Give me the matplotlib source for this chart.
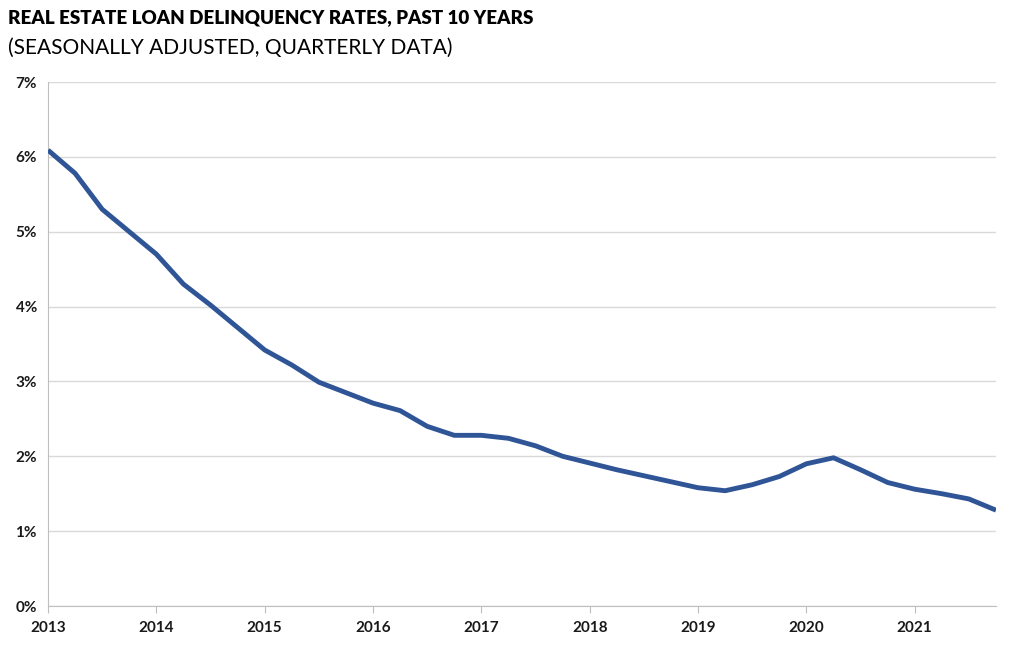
import numpy as np
import matplotlib.pyplot as plt
from matplotlib.ticker import FuncFormatter

plt.rc('font', family=['Lato', 'DejaVu Sans'])

# quarterly data, 2013 Q1 .. 2021 Q4 (percent)
quarters = np.arange(2013.0, 2022.0, 0.25)
rates = [6.09, 5.78, 5.30, 5.00, 4.70, 4.30, 4.02, 3.72,
         3.42, 3.22, 2.99, 2.85, 2.71, 2.61, 2.40, 2.28,
         2.28, 2.24, 2.14, 2.00, 1.91, 1.82, 1.74, 1.66,
         1.58, 1.54, 1.62, 1.73, 1.90, 1.98, 1.82, 1.65,
         1.56, 1.50, 1.43, 1.28]
years = list(range(2013, 2022))

fig = plt.figure(figsize=(10.24, 6.54), dpi=100)
ax = fig.add_axes([48/1024, 1 - 606/654, (996-48)/1024, (606-82)/654])

ax.plot(quarters, rates, color='#2F5597', linewidth=3.5, solid_capstyle='butt', zorder=3)

ax.set_xlim(2013, 2021.75)
ax.set_ylim(0, 7)
ax.set_yticks(range(0, 8))
ax.yaxis.set_major_formatter(FuncFormatter(lambda v, p: f'{v:.0f}%'))
ax.set_xticks(years)
ax.set_xticklabels([str(y) for y in years])
ax.grid(axis='y', color='#D9D9D9', linewidth=1)
ax.set_axisbelow(True)

for s in ['top', 'right']:
    ax.spines[s].set_visible(False)
ax.spines['left'].set_color('#BFBFBF')
ax.spines['bottom'].set_color('#BFBFBF')
ax.tick_params(axis='y', length=0, pad=8, labelsize=11)
ax.tick_params(axis='x', length=5, color='#BFBFBF', pad=6, labelsize=11)
for lbl in ax.get_xticklabels() + ax.get_yticklabels():
    lbl.set_fontweight('bold')
    lbl.set_color('#1a1a1a')

fig.text(8/1024, 1 - 18/654, 'REAL ESTATE LOAN DELINQUENCY RATES, PAST 10 YEARS',
         fontsize=13.5, fontweight='heavy', va='center', ha='left', color='black')
fig.text(8/1024, 1 - 48/654, '(SEASONALLY ADJUSTED, QUARTERLY DATA)',
         fontsize=15, va='center', ha='left', color='black')

fig.savefig('out.png', dpi=100)
